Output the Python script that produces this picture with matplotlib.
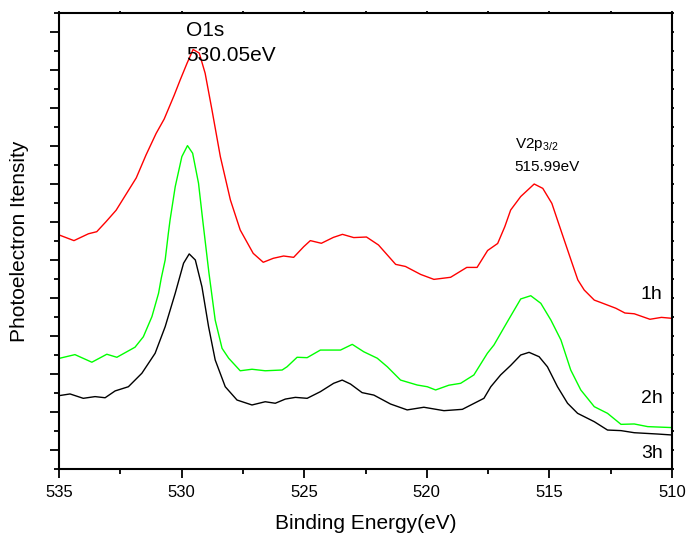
import matplotlib
matplotlib.use("Agg")
import matplotlib.pyplot as plt
from matplotlib.ticker import MultipleLocator, FixedLocator

plt.rcParams['font.family'] = ['Liberation Sans', 'DejaVu Sans']
plt.rcParams['mathtext.fontset'] = 'custom'
plt.rcParams['mathtext.rm'] = 'Liberation Sans'
plt.rcParams['mathtext.it'] = 'Liberation Sans'

# ---- data (binding energy in eV, intensity in arbitrary offset units) ----
be_1h = [535.00, 534.39, 533.80, 533.46, 533.08, 532.67, 531.85, 531.45, 531.04, 530.71,
         530.30, 530.06, 529.78, 529.53, 529.28, 529.04, 528.76, 528.42, 528.01, 527.61,
         527.08, 526.67, 526.26, 525.84, 525.43, 525.02, 524.75, 524.30, 523.81, 523.44,
         522.98, 522.46, 521.97, 521.27, 520.87, 520.25, 519.71, 519.03, 518.37, 517.95,
         517.52, 517.11, 516.82, 516.58, 516.17, 515.62, 515.27, 514.90, 514.49, 514.09,
         513.84, 513.58, 513.17, 512.90, 512.29, 511.92, 511.54, 510.90, 510.43, 510.00]
int_1h = [12.32, 12.02, 12.38, 12.49, 13.02, 13.62, 15.32, 16.53, 17.66, 18.42,
          19.68, 20.47, 21.35, 22.08, 21.89, 20.83, 18.89, 16.44, 14.16, 12.58,
          11.35, 10.88, 11.09, 11.21, 11.14, 11.70, 12.02, 11.88, 12.19, 12.35,
          12.18, 12.21, 11.79, 10.77, 10.66, 10.24, 9.98, 10.09, 10.61, 10.61,
          11.50, 11.87, 12.75, 13.63, 14.34, 15.00, 14.77, 13.98, 12.41, 10.89,
          9.95, 9.42, 8.89, 8.76, 8.46, 8.21, 8.17, 7.88, 7.98, 7.93]

be_2h = [535.00, 534.35, 533.66, 533.05, 532.64, 531.90, 531.56, 531.21, 530.94, 530.83,
         530.67, 530.54, 530.47, 530.26, 529.99, 529.76, 529.55, 529.31, 529.14, 528.89,
         528.63, 528.35, 528.08, 527.61, 527.13, 526.59, 525.90, 525.70, 525.29, 524.88,
         524.34, 523.52, 523.04, 522.57, 522.02, 521.61, 521.07, 520.39, 519.98, 519.64,
         519.10, 518.62, 518.08, 517.53, 517.26, 516.71, 516.17, 515.76, 515.35, 514.94,
         514.53, 514.13, 513.72, 513.17, 512.63, 512.08, 511.54, 510.99, 510.00]
int_2h = [5.82, 6.02, 5.62, 6.04, 5.88, 6.41, 6.96, 8.02, 9.25, 10.04,
          11.00, 12.41, 13.11, 14.86, 16.44, 17.02, 16.62, 15.04, 13.11, 10.37,
          7.84, 6.35, 5.83, 5.17, 5.25, 5.17, 5.21, 5.38, 5.88, 5.86,
          6.26, 6.26, 6.56, 6.17, 5.83, 5.38, 4.68, 4.42, 4.33, 4.16,
          4.41, 4.51, 4.95, 6.09, 6.53, 7.76, 8.95, 9.12, 8.72, 7.84,
          6.79, 5.21, 4.16, 3.28, 2.93, 2.35, 2.37, 2.23, 2.18]

be_3h = [535.00, 534.55, 534.01, 533.53, 533.12, 532.71, 532.17, 531.62, 531.08, 530.67,
         530.26, 529.92, 529.69, 529.44, 529.17, 528.90, 528.63, 528.22, 527.74, 527.13,
         526.59, 526.18, 525.77, 525.36, 524.88, 524.34, 523.80, 523.45, 523.11, 522.64,
         522.16, 521.48, 520.80, 520.12, 519.30, 518.55, 517.67, 517.39, 516.99, 516.58,
         516.17, 515.83, 515.42, 515.08, 514.67, 514.26, 513.85, 513.17, 512.63, 512.08,
         511.54, 510.58, 510.00]
int_3h = [3.86, 3.95, 3.72, 3.81, 3.75, 4.11, 4.33, 5.04, 6.09, 7.49,
          9.25, 10.83, 11.32, 11.00, 9.59, 7.49, 5.74, 4.33, 3.63, 3.37,
          3.54, 3.46, 3.68, 3.77, 3.72, 4.07, 4.51, 4.68, 4.47, 4.02,
          3.89, 3.42, 3.11, 3.25, 3.07, 3.14, 3.72, 4.33, 4.95, 5.45,
          6.00, 6.14, 5.91, 5.38, 4.33, 3.46, 2.93, 2.49, 2.05, 2.02,
          1.91, 1.84, 1.79]

series_labels = ["1h", "2h", "3h"]
x_ticks = [535, 530, 525, 520, 515, 510]

# ---- figure ----
fig = plt.figure(figsize=(6.87, 5.38), dpi=100)
ax = fig.add_axes([59/687, 1-469/538, (672-59)/687, (469-13)/538])

ax.plot(be_1h, int_1h, color='#ff0000', lw=1.0)
ax.plot(be_2h, int_2h, color='#00ff00', lw=1.0)
ax.plot(be_3h, int_3h, color='black', lw=1.0)

ax.set_xlim(535, 510)
ax.set_ylim(0, 24)

ax.xaxis.set_major_locator(FixedLocator(x_ticks))
ax.xaxis.set_minor_locator(MultipleLocator(2.5))
ax.yaxis.set_major_locator(FixedLocator(list(range(1, 24, 2))))
ax.yaxis.set_minor_locator(FixedLocator(list(range(0, 25, 2))))
ax.set_yticklabels([])

for s in ax.spines.values():
    s.set_linewidth(1.5)

ax.tick_params(axis='x', which='major', direction='out', length=6.5, width=1.3,
               labelsize=12, pad=5, top=True)
ax.tick_params(axis='x', which='minor', direction='out', length=3.6, width=1.3, top=True)
ax.tick_params(axis='y', which='major', direction='out', length=6.5, width=1.3,
               left=True, right=True)
ax.tick_params(axis='y', which='minor', direction='out', length=3.6, width=1.3,
               left=True, right=True)
# tiny ticks on top / right
for t in ax.xaxis.get_major_ticks() + ax.xaxis.get_minor_ticks():
    t.tick2line.set_markersize(1.5)
for t in ax.yaxis.get_major_ticks() + ax.yaxis.get_minor_ticks():
    t.tick2line.set_markersize(1.5)

ax.set_xlabel("Binding Energy(eV)", fontsize=15, labelpad=10)
ax.set_ylabel("Photoelectron Itensity", fontsize=15, labelpad=11.5)

ax.text(529.81, 22.79, "O1s", fontsize=15, ha='left', va='baseline')
ax.text(529.81, 21.47, "530.05eV", fontsize=15, ha='left', va='baseline')
ax.text(516.41, 16.89, r"V2p$_{\mathregular{3/2}}$", fontsize=11, ha='left', va='baseline')
ax.text(516.41, 15.68, "515.99eV", fontsize=11, ha='left', va='baseline')

label_y = [8.95, 3.47, 0.58]
for lab, yy in zip(series_labels, label_y):
    ax.text(511.27, yy, lab, fontsize=14, ha='left', va='baseline')

fig.savefig("out.png", dpi=100)
